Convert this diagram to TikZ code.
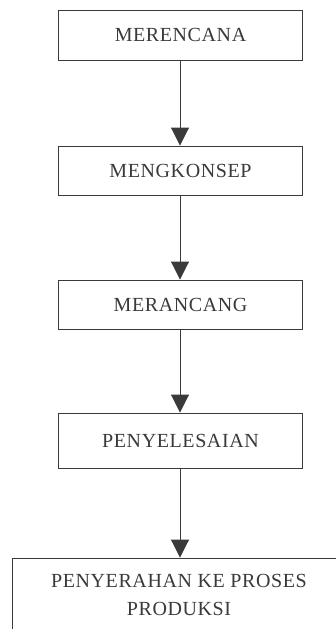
\documentclass[tikz,border=0pt]{standalone}
\usepackage{fontspec}
\setmainfont{Liberation Serif}[LetterSpace=3]
\usetikzlibrary{arrows.meta}
\definecolor{ink}{HTML}{3A3A3A}
\tikzset{
  stepbox/.style={draw=ink, line width=0.9pt, rectangle, minimum width=244pt, minimum height=50pt,
    text=ink, font=\fontsize{20}{28}\selectfont, align=center, inner sep=0pt},
  flow/.style={draw=ink, line width=0.9pt, -{Triangle[width=18pt,length=18pt]}, shorten >=0pt}
}
\begin{document}
\begin{tikzpicture}[x=1pt,y=-1pt]
\useasboundingbox[fill=white] (0,0) rectangle (336,629);
\node[stepbox] (b1) at (180.5,35) {MERENCANA};
\node[stepbox, minimum height=49pt] (b2) at (180.5,170.5) {MENGKONSEP};
\node[stepbox, minimum height=49pt] (b3) at (180.5,304.5) {MERANCANG};
\node[stepbox, minimum height=55pt] (b4) at (180.5,440.5) {PENYELESAIAN};
\node[stepbox, minimum width=334pt, minimum height=74pt] (b5) at (179,595) {PENYERAHAN KE PROSES\\PRODUKSI};
\draw[flow] (b1.south -| 180,0) -- (b2.north -| 180,0);
\draw[flow] (b2.south -| 180,0) -- (b3.north -| 180,0);
\draw[flow] (b3.south -| 180,0) -- (b4.north -| 180,0);
\draw[flow] (b4.south -| 180,0) -- (b5.north -| 180,0);
\end{tikzpicture}
\end{document}
